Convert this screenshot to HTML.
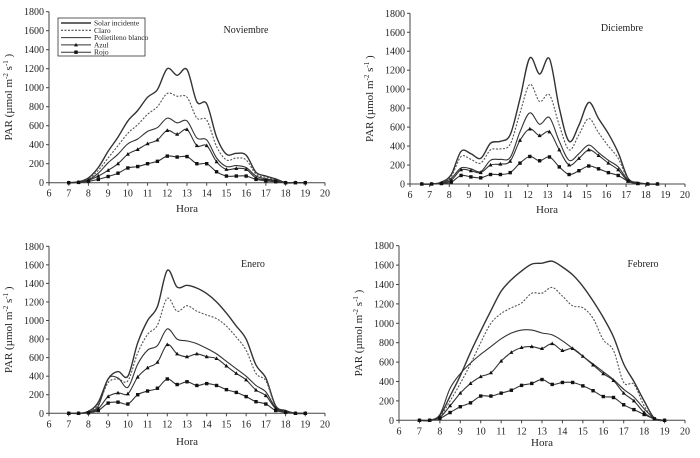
<!DOCTYPE html>
<html><head><meta charset="utf-8">
<style>
html,body{margin:0;padding:0;background:#fff;}
svg{display:block;font-family:"Liberation Serif",serif;}
</style></head>
<body>
<svg id="fig" width="700" height="458" viewBox="0 0 700 458" xmlns="http://www.w3.org/2000/svg"></svg>
<script>
// ---- data ----
const xTicks = [6,7,8,9,10,11,12,13,14,15,16,17,18,19,20];
const yTicks = [0,200,400,600,800,1000,1200,1400,1600,1800];
const seriesNames = ["Solar incidente","Claro","Polietileno blanco","Azul","Rojo"];

const novHours = [7,7.5,8,8.5,9,9.5,10,10.5,11,11.5,12,12.5,13,13.5,14,14.5,15,15.5,16,16.5,17,17.5,18,18.5,19];
const novSolar = [0,10,50,160,330,480,650,760,900,980,1200,1130,1190,850,830,480,300,310,290,110,70,40,0,0,0];
const novClaro = [0,8,40,130,260,390,520,610,720,800,940,910,900,680,660,380,240,260,240,90,55,30,0,0,0];
const novPoli  = [0,6,30,100,210,300,410,460,540,580,680,630,650,470,450,260,170,180,160,70,40,25,0,0,0];
const novAzul  = [0,5,25,70,130,200,300,350,410,450,550,510,560,390,390,220,140,150,140,50,30,20,0,0,0];
const novRojo  = [0,3,15,35,65,100,155,170,200,225,280,270,275,200,200,115,70,70,70,35,20,10,0,0,0];

const dicHours = [6.6,7.1,7.6,8.1,8.6,9.1,9.6,10.1,10.6,11.1,11.6,12.1,12.6,13.1,13.6,14.1,14.6,15.1,15.6,16.1,16.6,17.1,17.6,18.1,18.6];
const dicSolar = [0,0,20,100,345,320,270,430,450,520,900,1330,1160,1320,800,450,620,860,690,530,330,60,15,0,0];
const dicClaro = [0,0,15,80,290,260,220,360,370,420,750,1050,870,940,620,360,520,690,540,400,270,50,10,0,0];
const dicPoli  = [0,0,10,60,170,160,130,250,260,280,550,750,630,700,450,250,320,410,330,250,180,40,5,0,0];
const dicAzul  = [0,0,8,40,150,140,120,200,210,240,460,580,510,550,360,200,270,360,300,220,150,30,5,0,0];
const dicRojo  = [0,0,5,20,90,75,65,100,100,120,220,290,245,285,180,100,140,190,160,120,90,30,5,0,0];

const eneHours = [7,7.5,8,8.5,9,9.5,10,10.5,11,11.5,12,12.5,13,13.5,14,14.5,15,15.5,16,16.5,17,17.5,18,18.5,19];
const eneSolar = [0,0,20,120,370,450,400,760,1000,1150,1540,1360,1380,1350,1290,1200,1080,940,800,520,380,80,30,0,0];
const eneClaro = [0,0,15,100,330,370,350,650,850,950,1240,1100,1160,1100,1060,1020,940,820,680,430,350,70,25,0,0];
const enePoli  = [0,0,15,80,370,380,280,530,680,730,910,800,780,750,700,640,560,480,400,300,230,60,20,0,0];
const eneAzul  = [0,0,10,50,180,220,210,390,490,550,740,640,610,640,610,590,510,430,360,250,190,50,15,0,0];
const eneRojo  = [0,0,5,30,110,120,100,200,240,270,370,310,340,300,320,300,255,225,180,125,100,30,10,0,0];

const febHours = [7,7.5,8,8.5,9,9.5,10,10.5,11,11.5,12,12.5,13,13.5,14,14.5,15,15.5,16,16.5,17,17.5,18,18.5,19];
const febSolar = [0,0,50,250,460,700,920,1130,1330,1450,1540,1610,1620,1640,1580,1500,1380,1230,1060,860,580,400,200,20,0];
const febClaro = [0,0,40,200,380,580,800,1000,1100,1160,1210,1310,1310,1370,1280,1180,1160,1050,830,720,390,370,150,10,0];
const febPoli  = [0,0,60,330,480,590,680,760,840,900,930,930,900,880,820,740,660,580,500,420,320,240,120,20,0];
const febAzul  = [0,0,30,150,280,380,450,490,610,700,750,760,740,790,720,740,660,570,480,410,280,200,80,15,0];
const febRojo  = [0,0,20,80,140,180,250,250,280,310,360,380,420,370,390,390,355,305,245,235,160,110,60,15,0];

// ---- layout ----
const NS="http://www.w3.org/2000/svg";
const svg=document.getElementById('fig');
function el(tag,attrs,parent){const e=document.createElementNS(NS,tag);for(const k in attrs)e.setAttribute(k,attrs[k]);(parent||svg).appendChild(e);return e;}

const panels=[
 {key:'noviembre',title:'Noviembre',x0:49,x1:325,y0:182.7,y1:11.7,tx:246,ty:33,hx:187,hy:212,lx:12,hours:novHours,vals:[novSolar,novClaro,novPoli,novAzul,novRojo],legend:true},
 {key:'diciembre',title:'Diciembre',x0:410,x1:685,y0:184,y1:13.3,tx:622,ty:31,hx:547,hy:213,lx:373,hours:dicHours,vals:[dicSolar,dicClaro,dicPoli,dicAzul,dicRojo]},
 {key:'enero',title:'Enero',x0:49,x1:325,y0:413.3,y1:246.3,tx:253,ty:267,hx:187,hy:445,lx:12,hours:eneHours,vals:[eneSolar,eneClaro,enePoli,eneAzul,eneRojo]},
 {key:'febrero',title:'Febrero',x0:399,x1:685,y0:420.3,y1:245.7,tx:643,ty:267,hx:542,hy:446,lx:362,hours:febHours,vals:[febSolar,febClaro,febPoli,febAzul,febRojo]}
];

function smoothPath(pts){
  let d='M'+pts[0][0].toFixed(1)+','+pts[0][1].toFixed(1);
  for(let i=0;i<pts.length-1;i++){
    const p0=pts[Math.max(i-1,0)],p1=pts[i],p2=pts[i+1],p3=pts[Math.min(i+2,pts.length-1)];
    const c1=[p1[0]+(p2[0]-p0[0])/6,p1[1]+(p2[1]-p0[1])/6];
    const c2=[p2[0]-(p3[0]-p1[0])/6,p2[1]-(p3[1]-p1[1])/6];
    d+=' C'+c1[0].toFixed(1)+','+c1[1].toFixed(1)+' '+c2[0].toFixed(1)+','+c2[1].toFixed(1)+' '+p2[0].toFixed(1)+','+p2[1].toFixed(1);
  }
  return d;
}

const slugs=['solar-incidente','claro','polietileno-blanco','azul','rojo'];
panels.forEach(p=>{
  const g=el('g',{});
  
  
  const xs=v=>p.x0+(v-6)/(20-6)*(p.x1-p.x0);
  const ys=v=>p.y0+(v/1800)*(p.y1-p.y0);
  // axes
  const ax=el('path',{d:`M${p.x0},${p.y1} L${p.x0},${p.y0} L${p.x1},${p.y0}`,fill:'none',stroke:'#444','stroke-width':1},g);
  
  
  yTicks.forEach(t=>{
    el('line',{x1:p.x0-3,x2:p.x0,y1:ys(t),y2:ys(t),stroke:'#444'},g);
    const tx=el('text',{x:p.x0-5,y:ys(t)+3.5,'font-size':10,'text-anchor':'end',fill:'#222'},g);
    tx.textContent=t;
    
    
  });
  xTicks.forEach(t=>{
    el('line',{x1:xs(t),x2:xs(t),y1:p.y0,y2:p.y0+3,stroke:'#444'},g);
    const tx=el('text',{x:xs(t),y:p.y0+14,'font-size':10,'text-anchor':'middle',fill:'#222'},g);
    tx.textContent=t;
    
    
  });
  const h=el('text',{x:p.hx,y:p.hy,'font-size':11,'text-anchor':'middle',fill:'#222'},g);
  h.textContent='Hora';
  
  
  const cy=(p.y0+p.y1)/2;
  const yl=el('text',{x:p.lx,y:cy,'font-size':11,'text-anchor':'middle',fill:'#222',transform:`rotate(-90 ${p.lx} ${cy})`},g);
  yl.innerHTML='PAR (µmol m<tspan font-size="7" dy="-4">-2</tspan><tspan dy="4"> s</tspan><tspan font-size="7" dy="-4">-1</tspan><tspan dy="4"> )</tspan>';
  
  
  const tt=el('text',{x:p.tx,y:p.ty,'font-size':10,'text-anchor':'middle',fill:'#222'},g);
  tt.textContent=p.title;
  
  
  // series
  p.vals.forEach((arr,si)=>{
    const pts=arr.map((v,i)=>[xs(p.hours[i]),ys(v)]);
    const attrs={d:smoothPath(pts),fill:'none',stroke:'#333','stroke-width':si===0?1.4:1.1};
    if(si===1){attrs['stroke-dasharray']='2,1.5';attrs.stroke='#555';}
    const path=el('path',attrs,g);
    
    
    if(si>=3){
      pts.forEach(q=>{
        let m;
        if(si===3) m=el('path',{d:`M${q[0]},${q[1]-2.2} L${q[0]+2},${q[1]+1.5} L${q[0]-2},${q[1]+1.5} Z`,fill:'#111'},g);
        else m=el('rect',{x:q[0]-1.7,y:q[1]-1.7,width:3.4,height:3.4,fill:'#111'},g);
        
        
      });
    }
  });
  if(p.legend){
    const lg=el('g',{},g);
    
    
    el('rect',{x:58,y:18,width:87,height:38,fill:'#fff',stroke:'#333','stroke-width':0.8},lg);
    seriesNames.forEach((n,i)=>{
      const yy=23+i*7.3;
      const ln=el('line',{x1:61,x2:91,y1:yy,y2:yy,stroke:'#333','stroke-width':i===0?1.4:1},lg);
      if(i===1)ln.setAttribute('stroke-dasharray','2,1.5');
      if(i===3) el('path',{d:`M76,${yy-2} L78,${yy+1.5} L74,${yy+1.5} Z`,fill:'#111'},lg);
      if(i===4) el('rect',{x:74.3,y:yy-1.7,width:3.4,height:3.4,fill:'#111'},lg);
      const t=el('text',{x:94,y:yy+2.5,'font-size':7.5,fill:'#222'},lg);
      t.textContent=n;
      
      
    });
  }
});
</script>
</body></html>
